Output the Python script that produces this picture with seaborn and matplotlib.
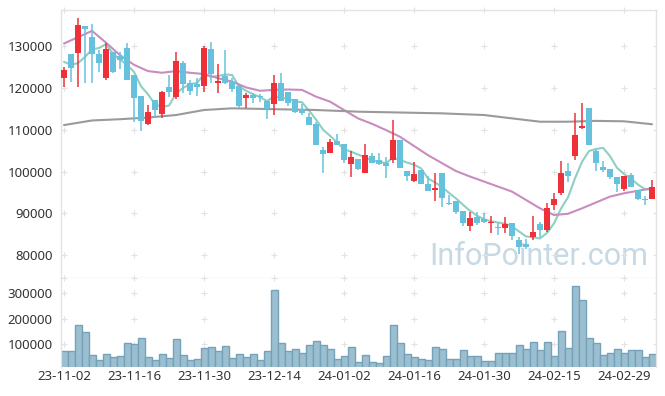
import numpy as np
import pandas as pd
import matplotlib
matplotlib.use("Agg")
import matplotlib.pyplot as plt
import seaborn as sns

# ---------------- data ----------------
dates = [
    "23-11-02", "23-11-03", "23-11-06", "23-11-07", "23-11-08", "23-11-09", "23-11-10",
    "23-11-13", "23-11-14", "23-11-15", "23-11-16", "23-11-17", "23-11-20", "23-11-21",
    "23-11-22", "23-11-23", "23-11-24", "23-11-27", "23-11-28", "23-11-29", "23-11-30",
    "23-12-01", "23-12-04", "23-12-05", "23-12-06", "23-12-07", "23-12-08", "23-12-11",
    "23-12-12", "23-12-13", "23-12-14", "23-12-15", "23-12-18", "23-12-19", "23-12-20",
    "23-12-21", "23-12-22", "23-12-26", "23-12-27", "23-12-28", "24-01-02", "24-01-03",
    "24-01-04", "24-01-05", "24-01-08", "24-01-09", "24-01-10", "24-01-11", "24-01-12",
    "24-01-15", "24-01-16", "24-01-17", "24-01-18", "24-01-19", "24-01-22", "24-01-23",
    "24-01-24", "24-01-25", "24-01-26", "24-01-29", "24-01-30", "24-01-31", "24-02-01",
    "24-02-02", "24-02-05", "24-02-06", "24-02-07", "24-02-08", "24-02-13", "24-02-14",
    "24-02-15", "24-02-16", "24-02-19", "24-02-20", "24-02-21", "24-02-22", "24-02-23",
    "24-02-26", "24-02-27", "24-02-28", "24-02-29", "24-03-04", "24-03-05", "24-03-06",
    "24-03-07",
]

opens = [
    122300, 128100, 128400, 134800, 132100, 128100, 122400, 128600, 127500, 129400,
    123100, 118000, 111400, 117100, 113800, 120100, 117900, 126000, 121200, 121000,
    120500, 129300, 121200, 122800, 121500, 120400, 117500, 118300, 118100, 116900,
    116100, 121100, 119000, 117300, 114900, 113100, 111400, 105100, 104500, 107300,
    106600, 101800, 103000, 99700, 103700, 102700, 102100, 102800, 107500, 100100,
    97800, 100400, 97000, 95600, 99700, 92500, 93000, 90600, 87000, 89200,
    88700, 87800, 86700, 86400, 87600, 83600, 82700, 84400, 87500, 86000,
    92000, 94900, 100100, 103800, 110500, 115100, 104900, 101000, 100500, 98600,
    95800, 99200, 95600, 93400, 93400,
]
highs = [
    124900, 128100, 136600, 134800, 135200, 129000, 130600, 128600, 128500, 130700,
    123100, 118000, 115900, 117100, 119300, 123100, 128500, 126400, 121900, 122300,
    130000, 130900, 125600, 129000, 122300, 120700, 118700, 118700, 118500, 116900,
    123100, 123500, 119000, 117300, 116100, 113900, 111900, 105800, 107700, 108900,
    106600, 105000, 103000, 106500, 104400, 104400, 103500, 112300, 107500, 100100,
    102200, 100400, 99000, 99600, 99700, 94400, 93000, 90600, 90400, 90400,
    90200, 89400, 87800, 89100, 87600, 84300, 83800, 89400, 87900, 92400,
    94800, 102500, 102000, 114100, 116300, 115100, 105300, 102600, 100500, 98600,
    98900, 99600, 95600, 94200, 98000,
]
lows = [
    120100, 121300, 120100, 121200, 121200, 123900, 121900, 123500, 124500, 121900,
    111900, 109800, 111200, 112800, 112700, 117800, 117300, 118700, 118200, 118100,
    119100, 121200, 118700, 120900, 119100, 115100, 115100, 116300, 116700, 112500,
    113500, 116900, 115700, 113900, 113500, 111100, 106300, 99600, 104500, 106300,
    102100, 98800, 100400, 99600, 102000, 101600, 98400, 102000, 100900, 97800,
    97600, 97000, 95400, 93000, 91400, 92000, 89800, 87000, 85900, 87200,
    87800, 85400, 84800, 85200, 83600, 80300, 81400, 83600, 84400, 85600,
    90800, 94400, 97600, 102800, 110100, 106300, 100100, 100000, 98100, 95200,
    95400, 96400, 93200, 92000, 93400,
]
closes = [
    124300, 124700, 135000, 134000, 128000, 125900, 129300, 123700, 126700, 121900,
    117500, 112000, 114200, 114600, 118900, 119100, 126400, 120800, 119300, 120200,
    129500, 123400, 121700, 121100, 119700, 115700, 118300, 117600, 117700, 114900,
    121100, 116900, 116400, 114300, 114100, 111100, 106300, 104200, 107000, 106300,
    102800, 103500, 100600, 103900, 102100, 101900, 101400, 107500, 100900, 99000,
    99400, 97000, 95400, 96100, 93700, 92200, 90400, 87800, 89000, 87800,
    88000, 87900, 86400, 87500, 84600, 82000, 81900, 85500, 86000, 91200,
    93400, 99600, 99000, 108700, 110900, 106300, 102000, 100400, 98800, 96900,
    98900, 96400, 93400, 93200, 96400,
]
volumes = [
    73700, 73700, 174500, 147000, 56900, 37300, 62000, 49000, 52900, 103900,
    100000, 123500, 49000, 37300, 60800, 45100, 119600, 56900, 37300, 41200,
    84300, 88200, 72500, 92200, 45100, 60800, 49000, 60800, 37300, 72500,
    311800, 103900, 72500, 80400, 64700, 96100, 111800, 96100, 80400, 41200,
    52900, 88200, 29400, 56900, 29400, 25500, 52900, 174500, 103900, 60800,
    49000, 41200, 37300, 88200, 80400, 41200, 41200, 76500, 52900, 52900,
    33300, 33300, 64700, 64700, 64700, 96100, 80400, 107800, 76500, 107800,
    52900, 151000, 84300, 327500, 272600, 123500, 103900, 56900, 64700, 80400,
    64700, 76500, 76500, 49000, 60800,
]

# 5-day average values for the first four sessions
ma5_head = [126200, 125500, 125900, 127400]

# 20-day average line, read at these sessions
ma20_idx = [0, 2, 4, 6, 8, 10, 12, 14, 16, 18, 20, 22, 24, 26, 28, 30, 32, 34, 36,
            38, 40, 42, 44, 46, 48, 50, 52, 54, 56, 58, 60, 62, 64, 66, 68, 70,
            72, 74, 76, 78, 80, 82, 84]
ma20_val = [130600, 132100, 133600, 130800, 127800, 125500, 124000, 123600, 124000,
            123600, 123300, 122300, 121500, 120100, 119300, 119500, 119600, 119500,
            117900, 116700, 114700, 112700, 111400, 109900, 108300, 106100, 103900,
            102000, 100100, 98800, 97600, 96400, 95200, 93200, 91200, 89600,
            89900, 91200, 92600, 94000, 94800, 95400, 96000]

# long average line, read at these sessions
malong_idx = [0, 4, 8, 12, 16, 20, 24, 30, 36, 42, 48, 54, 60, 64, 68, 72, 76, 80, 84]
malong_val = [111100, 112200, 112500, 112900, 113500, 114700, 115100, 114900, 114700,
              114300, 114100, 113900, 113500, 112700, 111900, 111900, 112100, 112000,
              111300]

price_ticks = [80000, 90000, 100000, 110000, 120000, 130000]
vol_ticks = [100000, 200000, 300000]
date_tick_idx = [0, 10, 20, 30, 40, 50, 60, 70, 80]

# ---------------- style ----------------
sns.set_theme(style="white")
plt.rcParams['font.family'] = ['Noto Sans', 'DejaVu Sans']

UP = "#ee3138"
DOWN = "#66c2dc"
GRID = "#e2e2e2"
FRAME = "#e3e3e3"
TXT = "#333333"

n = len(closes)
idx = np.arange(n)
XL = (-0.43, 84.57)

fig = plt.figure(figsize=(6.65, 3.96), dpi=100)
ax = fig.add_axes([61 / 665, 1 - 278 / 396, 595 / 665, 268 / 396])
axv = fig.add_axes([61 / 665, 1 - 367 / 396, 595 / 665, 89 / 396])

ax.text(0.987, 0.082, "InfoPointer.com", transform=ax.transAxes, ha="right",
        va="center", fontsize=22, color="#c6d9e4", zorder=1,
        family=["Roboto", "DejaVu Sans"])

# moving averages
ma5 = pd.Series(closes, dtype=float).rolling(5).mean().to_numpy()
ma5[:4] = ma5_head
df_ma = pd.DataFrame({"i": idx, "ma5": ma5})
sns.lineplot(data=df_ma, x="i", y="ma5", ax=ax, color="#8fcfc3", lw=1.5, zorder=2)
sns.lineplot(x=ma20_idx, y=ma20_val, ax=ax, color="#c98cc0", lw=1.5, zorder=2)
sns.lineplot(x=malong_idx, y=malong_val, ax=ax, color="#9a9a9a", lw=1.5, zorder=2)

# candles
o = np.array(opens); c = np.array(closes)
h = np.array(highs); l = np.array(lows)
cols = [UP if cc >= oo else DOWN for oo, cc in zip(o, c)]
ax.vlines(idx, l, h, colors=cols, lw=1.1, zorder=3)
body_h = np.maximum(np.abs(c - o), 250)
ax.bar(idx, body_h, bottom=np.minimum(o, c), width=0.74, color=cols, zorder=4, linewidth=0)

# grid plus markers
for axis, yt in ((ax, price_ticks), (axv, vol_ticks)):
    xs = [XL[0]] + date_tick_idx + [XL[1]]
    px, py = np.meshgrid(xs, yt)
    axis.plot(px.ravel(), py.ravel(), ls="none", marker="+", ms=4.5, mew=0.8,
              color=GRID, zorder=1)

ax.set_xlim(*XL)
ax.set_ylim(74550, 138600)
ax.set_yticks(price_ticks)
ax.set_yticklabels([str(v) for v in price_ticks])
ax.set_xticks([])
ax.set_xlabel(""); ax.set_ylabel("")
ax.tick_params(axis="y", length=0, pad=6, labelsize=9.5, labelcolor=TXT)
for s in ax.spines.values():
    s.set_color(FRAME); s.set_linewidth(1)
ax.plot(date_tick_idx, [138600] * len(date_tick_idx), ls="none", marker="+", ms=4.5,
        mew=0.8, color=GRID, clip_on=False, zorder=1)

# volume
sns.barplot(x=idx, y=volumes, ax=axv, color="#9bbfd0", edgecolor="#74a2b8",
            linewidth=1.0, width=1.0, saturation=1, zorder=2)
axv.set_xlim(*XL)
axv.set_ylim(11000, 359000)
axv.set_yticks(vol_ticks)
axv.set_yticklabels([str(v) for v in vol_ticks])
axv.set_xticks(date_tick_idx)
axv.set_xticklabels([dates[i] for i in date_tick_idx])
axv.set_xlabel(""); axv.set_ylabel("")
axv.tick_params(axis="both", length=0, labelsize=9.5, labelcolor=TXT)
axv.tick_params(axis="y", pad=6)
axv.tick_params(axis="x", pad=2)
for k, s in axv.spines.items():
    s.set_color(FRAME); s.set_linewidth(1)
axv.spines["bottom"].set_visible(False)
axv.spines["top"].set_visible(False)
axv.plot(date_tick_idx, [359000] * len(date_tick_idx), ls="none", marker="+", ms=4.5,
         mew=0.8, color=GRID, clip_on=False, zorder=1)

fig.savefig("out.png", dpi=100)
